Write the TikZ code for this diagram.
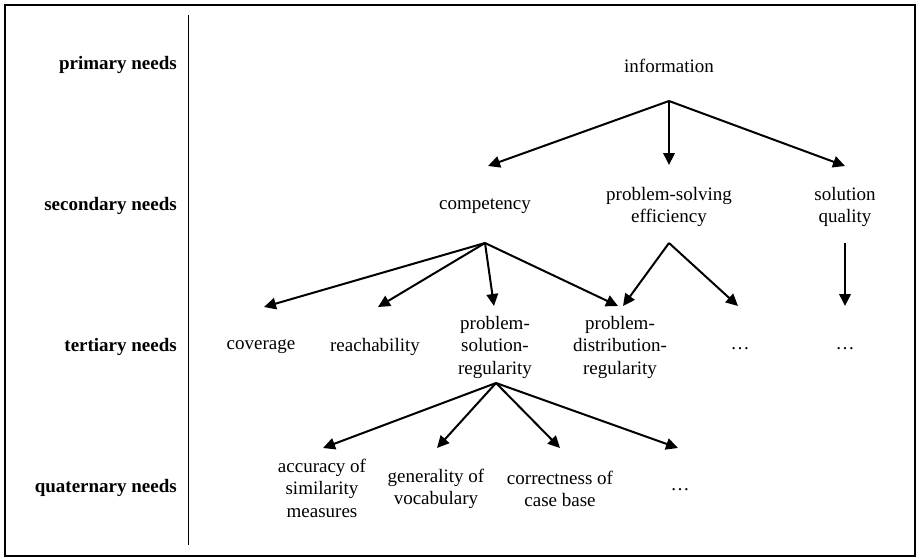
\documentclass[tikz,border=0pt]{standalone}
\usepackage{fontspec}
\setmainfont{Liberation Serif}
\usetikzlibrary{arrows.meta}
\begin{document}
\begin{tikzpicture}[x=1pt,y=-1pt,
  txt/.style={inner sep=0pt,align=center,font=\fontsize{19}{22.5}\selectfont},
  lvl/.style={inner sep=0pt,anchor=east,font=\fontsize{19}{22.5}\selectfont\bfseries},
  arr/.style={line width=2pt,-{Triangle[length=12pt,width=11.5pt]}}]
\useasboundingbox (0,0) rectangle (917,557);
\draw[line width=2pt] (4.5,4.5) rectangle (914.5,555.5);
\coordinate (sepT) at (188.5,15);
\coordinate (sepB) at (188.5,545);
\draw[line width=1.8pt] (sepT) -- (sepB);
% level labels
\node[lvl] (l1) at (177,65) {primary needs};
\node[lvl] (l2) at (177,206) {secondary needs};
\node[lvl] (l3) at (177,347) {tertiary needs};
\node[lvl] (l4) at (177,488) {quaternary needs};
% nodes
\node[txt] (info) at (669,66) {information};
\node[txt] (comp) at (485,206) {competency};
\node[txt] (pse) at (669,207) {problem-solving\\efficiency};
\node[txt] (sq) at (845,207) {solution\\quality};
\node[txt] (cov) at (261,347) {coverage};
\node[txt] (reach) at (375,347) {reachability};
\node[txt] (psr) at (495,347) {problem-\\solution-\\regularity};
\node[txt] (pdr) at (620,347) {problem-\\distribution-\\regularity};
\node[txt] (dA) at (740,349) {…};
\node[txt] (dB) at (845,349) {…};
\node[txt] (acc) at (322,488) {accuracy of\\similarity\\measures};
\node[txt] (gen) at (436,489) {generality of\\vocabulary};
\node[txt] (cor) at (560,489) {correctness of\\case base};
\node[txt] (dC) at (680,490) {…};
% connector end points
\coordinate (infoB) at (669,101);
\coordinate (compB) at (485,243);
\coordinate (pseB) at (669,243);
\coordinate (sqB) at (845,243);
\coordinate (psrB) at (496,383);
\coordinate (compT) at (488,166);
\coordinate (pseT) at (669,165);
\coordinate (sqT) at (845,166);
\coordinate (covT) at (264,307);
\coordinate (reachT) at (378,307);
\coordinate (psrT) at (494,306);
\coordinate (pdrTa) at (618,306);
\coordinate (pdrTb) at (623,306);
\coordinate (dAT) at (738,306);
\coordinate (dBT) at (845,306);
\coordinate (accT) at (323,448);
\coordinate (genT) at (437,448);
\coordinate (corT) at (560,448);
\coordinate (dCT) at (678,448);
% connectors
\draw[arr] (infoB) -- (compT);
\draw[arr] (infoB) -- (pseT);
\draw[arr] (infoB) -- (sqT);
\draw[arr] (compB) -- (covT);
\draw[arr] (compB) -- (reachT);
\draw[arr] (compB) -- (psrT);
\draw[arr] (compB) -- (pdrTa);
\draw[arr] (pseB) -- (pdrTb);
\draw[arr] (pseB) -- (dAT);
\draw[arr] (sqB) -- (dBT);
\draw[arr] (psrB) -- (accT);
\draw[arr] (psrB) -- (genT);
\draw[arr] (psrB) -- (corT);
\draw[arr] (psrB) -- (dCT);
\end{tikzpicture}
\end{document}
